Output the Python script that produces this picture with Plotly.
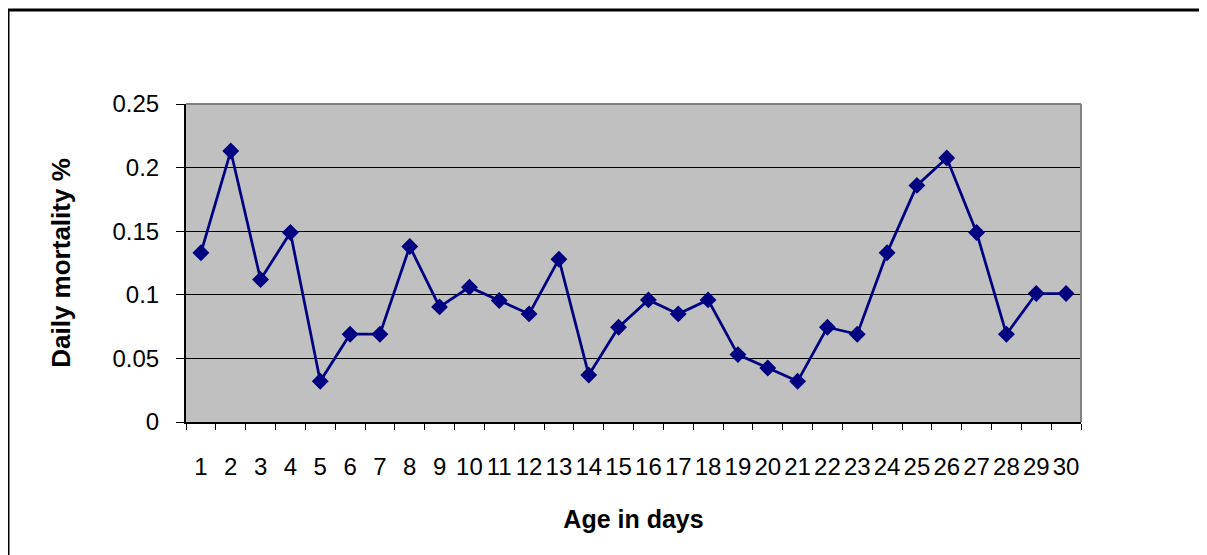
import plotly.graph_objects as go

days = [str(d) for d in range(1, 31)]
mortality = [0.133, 0.213, 0.112, 0.149, 0.032, 0.069, 0.069, 0.138, 0.0905, 0.106,
             0.0955, 0.085, 0.128, 0.037, 0.0745, 0.096, 0.085, 0.096, 0.053, 0.0425,
             0.032, 0.0745, 0.069, 0.133, 0.186, 0.2075, 0.149, 0.069, 0.101, 0.101]
y_ticks = [0, 0.05, 0.1, 0.15, 0.2, 0.25]
y_ticktext = ["0", "0.05", "0.1", "0.15", "0.2", "0.25"]

# page body has an 8px margin, so work in page pixels shifted by 8
OFF = 8
W, H = 1207 - OFF, 555 - OFF
L, R, T, B = 186 - OFF, 1081 - OFF, 104 - OFF, 422 - OFF

fig = go.Figure()
fig.add_trace(go.Scatter(
    x=days, y=mortality, mode="lines+markers",
    line=dict(color="#000080", width=2.75),
    marker=dict(symbol="diamond", size=13, color="#000080"),
    showlegend=False,
))

def px_x(p):
    return (p - OFF - L) / (R - L)

def px_y(p):
    return (B - (p - OFF)) / (B - T)

shapes = [
    dict(type="line", xref="paper", yref="paper", x0=0, x1=1, y0=1, y1=1,
         line=dict(color="#808080", width=2), layer="above"),
    dict(type="line", xref="paper", yref="paper", x0=1, x1=1, y0=0, y1=1,
         line=dict(color="#808080", width=2), layer="above"),
    dict(type="line", xref="paper", yref="paper", x0=px_x(8), x1=px_x(1230),
         y0=px_y(10), y1=px_y(10), line=dict(color="black", width=3)),
    dict(type="line", xref="paper", yref="paper", x0=px_x(8), x1=px_x(8),
         y0=px_y(10), y1=px_y(580), line=dict(color="black", width=3)),
]

fig.update_layout(
    width=W, height=H,
    margin=dict(l=L, r=W - R, t=T, b=H - B, pad=0),
    paper_bgcolor="white", plot_bgcolor="#C0C0C0",
    font=dict(family="Liberation Sans, Arial, sans-serif", size=24, color="black"),
    shapes=shapes,
    xaxis=dict(
        type="category", tickson="boundaries", ticks="outside", ticklen=6,
        tickcolor="black", tickwidth=1, showline=True, linecolor="black", linewidth=2,
        showgrid=False, range=[-0.5, 29.5], tickfont=dict(size=24), tickangle=0,
        ticklabelstandoff=22,
        title=dict(text="<b>Age in days</b>", font=dict(size=25), standoff=32),
    ),
    yaxis=dict(
        range=[0, 0.25], tickvals=y_ticks, ticktext=y_ticktext,
        ticks="outside", ticklen=8, tickcolor="black", tickwidth=1,
        showline=True, linecolor="black", linewidth=2,
        showgrid=True, gridcolor="#000000", gridwidth=1, zeroline=False,
        tickfont=dict(size=24), ticklabelstandoff=12,
        title=dict(text="<b>Daily mortality %</b>", font=dict(size=26), standoff=34),
    ),
)

fig.write_html("out.html")
